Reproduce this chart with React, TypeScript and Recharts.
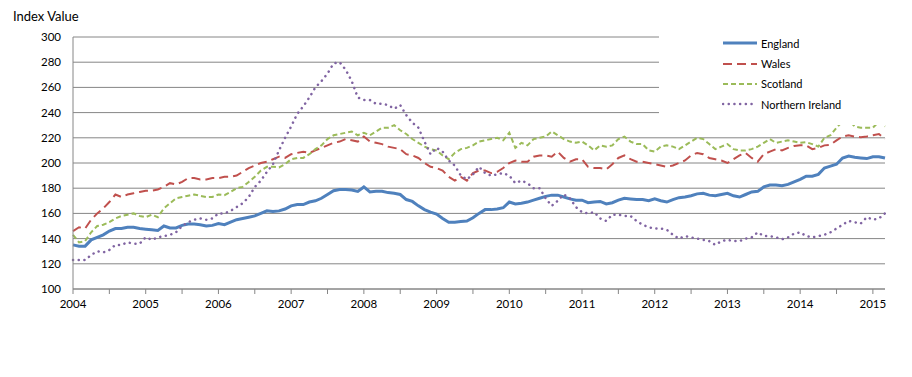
import { LineChart, Line, XAxis, YAxis, CartesianGrid } from "recharts";

// monthly index values, Jan 2004 .. Mar 2015
const england = [
  135, 134, 134, 139, 141, 143, 146, 148, 148, 149, 149, 148,
  147.5, 147, 146.5, 150, 148.5, 148.5, 150.5, 151.5, 151.5, 151, 150, 150.5,
  152, 151, 153, 155, 156, 157, 158, 160, 162, 161.5, 162, 163.5,
  166, 167, 167, 169, 170, 172, 175, 178, 179, 179, 178.5, 177.5,
  181, 177, 177.5, 177.5, 176.5, 176, 175, 171, 169.5, 166, 163, 161,
  159.5, 156, 153, 153, 153.5, 154, 156.5, 160, 163, 163, 163.5, 164.5,
  169, 167.5, 168, 169, 170.5, 172, 173.5, 174.5, 174.5, 173, 171.5, 170.5,
  170.5, 168.5, 169, 169.5, 167.5, 168.5, 170.5, 172, 171.5, 171, 171, 170,
  171.5, 170, 169, 171, 172.5, 173, 174, 175.5, 176, 174.5, 174, 175,
  176, 174, 173, 175, 177, 177.5, 181, 182.5, 182.5, 182, 183, 185,
  187, 189.5, 189.5, 191, 196, 197.5, 199, 204, 205.5, 204.5, 204, 203.5,
  205, 205, 204,
];

const wales = [
  146, 149, 148, 155, 160, 164, 169, 175, 173, 175, 176, 177,
  178, 178, 179, 181, 184, 183, 185, 188, 188, 187, 187, 188,
  188, 189, 189, 190, 193, 196, 198, 200, 201, 203, 205, 204,
  207, 208, 209, 208, 210, 212, 214, 216, 217, 219, 218, 217,
  221, 217, 216, 215, 213, 212, 211, 207, 206, 204, 200, 197,
  196, 194, 189, 186, 189, 186, 192, 194, 194, 192, 193, 196,
  200, 202, 201, 201, 205, 206, 206, 205, 209, 204, 201, 203,
  203, 197, 196, 196, 195, 199, 204, 206, 203, 201, 201, 200,
  199, 198, 197, 198, 200, 202, 206, 208, 207, 204, 203, 202,
  200, 203, 206, 208, 204, 201, 207, 209, 211, 210, 212, 213.5,
  214, 214, 211, 212, 214, 214.5, 218, 221, 222, 221, 220.5, 221,
  222, 223, 219,
];

const scotland = [
  143, 137, 138, 145, 150, 151, 153, 156, 158, 159, 160, 158,
  157, 159, 157, 164, 168, 172, 173, 174, 175, 174, 173, 173,
  175, 174.5, 177, 180, 181, 185, 189, 194, 197, 197, 196.5, 199,
  203, 204, 204, 207, 211, 214, 219, 222, 223, 224, 225, 222,
  224, 222, 225, 228, 228, 230, 226, 223, 219, 216, 213, 211,
  210, 206, 203, 208, 211, 212, 214, 217, 218, 219, 220, 218,
  224, 212, 216, 214, 219, 220, 221, 225, 222, 219, 217, 216,
  217, 214, 210, 214, 213, 214, 219, 221, 217, 215, 215, 210,
  209, 213, 214, 213, 211, 214, 217, 220, 219, 215, 211, 213,
  215, 211, 210, 210, 211, 213, 216, 219, 216, 217, 218, 217,
  216, 216.5, 215, 213, 220, 222, 228, 233, 234, 229, 228, 228,
  228, 233, 229,
];

const northernIreland = [
  123, 123, 123, 127, 130, 129, 131, 135, 135, 137, 136, 136,
  141, 139, 141, 142, 143, 145, 150, 153, 155, 156, 155, 156,
  160, 160, 162, 165, 168, 173, 181, 186, 193, 199, 210, 220,
  229, 239, 245, 252, 260, 265, 271, 279, 280, 274, 265, 252,
  250, 250, 247, 247, 246, 243, 246, 238, 232, 228, 217, 207,
  212, 209, 202, 198, 190, 187, 191, 197, 192, 190, 191, 192,
  190, 184, 186, 184, 180, 180, 172, 166, 170, 175, 172, 165,
  161, 160, 161, 156, 154, 159, 159, 158, 158, 154, 151, 149,
  148, 148, 147, 143, 140, 142, 141, 140, 139, 138, 135, 138,
  139, 138, 138, 140, 141, 145, 142, 142, 141, 139.5, 141, 144,
  145, 142, 141, 142, 143, 145, 148, 151, 154, 153, 152, 157,
  155, 156, 160,
];

const years = ["2004", "2005", "2006", "2007", "2008", "2009", "2010", "2011", "2012", "2013", "2014", "2015"];
const yTicks = [100, 120, 140, 160, 180, 200, 220, 240, 260, 280, 300];
const xTicks = [0, 6, 12, 18, 24, 30, 36, 42, 48, 54, 60, 66, 72, 78, 84, 90, 96, 102, 108, 114, 120, 126, 132];

const series = [
  { key: "England", color: "#4F81BD", width: 3, dash: undefined, cap: "butt" },
  { key: "Wales", color: "#C0504D", width: 2, dash: "9 5", cap: "butt" },
  { key: "Scotland", color: "#9BBB59", width: 2, dash: "5 3", cap: "butt" },
  { key: "Northern Ireland", color: "#8064A2", width: 2.5, dash: "0.1 5.6", cap: "round" },
];

const data = england.map((v, i) => ({
  idx: i,
  England: v,
  Wales: wales[i],
  Scotland: scotland[i],
  "Northern Ireland": northernIreland[i],
}));

const FONT = "Lato, 'Open Sans', sans-serif";
const GRID = "#868686";

export default function App() {
  return (
    <div style={{ position: "absolute", left: 0, top: 0, width: 912, height: 377, background: "#fff", fontFamily: FONT }}>
      <div style={{ position: "absolute", left: 13, top: 10, fontSize: 13, lineHeight: "13px", color: "#000" }}>
        Index Value
      </div>
      <LineChart width={912} height={377} data={data} margin={{ top: 37, right: 27, left: 0, bottom: 0 }}>
        <CartesianGrid vertical={false} stroke={GRID} strokeWidth={1} />
        <XAxis
          dataKey="idx"
          type="number"
          domain={[0, 134]}
          ticks={xTicks}
          interval={0}
          height={88}
          stroke={GRID}
          tickSize={5}
          tickMargin={6}
          tick={{ fill: "#000", fontSize: 11.5, fontFamily: FONT }}
          tickFormatter={(v: number) => (v % 12 === 0 ? years[v / 12] : "")}
        />
        <YAxis
          type="number"
          domain={[100, 300]}
          ticks={yTicks}
          interval={0}
          width={73}
          stroke={GRID}
          tickLine={false}
          tickSize={6}
          tickMargin={6}
          tick={{ fill: "#000", fontSize: 11.5, fontFamily: FONT }}
        />
        {series.map((s) => (
          <Line
            key={s.key}
            dataKey={s.key}
            type="linear"
            stroke={s.color}
            strokeWidth={s.width}
            strokeDasharray={s.dash}
            strokeLinecap={s.cap as any}
            dot={false}
            activeDot={false}
            isAnimationActive={false}
          />
        ))}
      </LineChart>
      <div style={{ position: "absolute", left: 659, top: 30, width: 228, height: 95, background: "#fff" }}>
        {series.map((s, i) => (
          <div
            key={s.key}
            style={{ position: "absolute", left: 63, top: 13.3 + i * 20.3 - 8, height: 16, display: "flex", alignItems: "center" }}
          >
            <svg width={36} height={16} style={{ display: "block" }}>
              <line
                x1={1}
                y1={8}
                x2={35}
                y2={8}
                stroke={s.color}
                strokeWidth={s.width}
                strokeDasharray={s.dash}
                strokeLinecap={s.cap as any}
              />
            </svg>
            <span style={{ marginLeft: 3, fontSize: 11, color: "#000", whiteSpace: "nowrap" }}>{s.key}</span>
          </div>
        ))}
      </div>
    </div>
  );
}
